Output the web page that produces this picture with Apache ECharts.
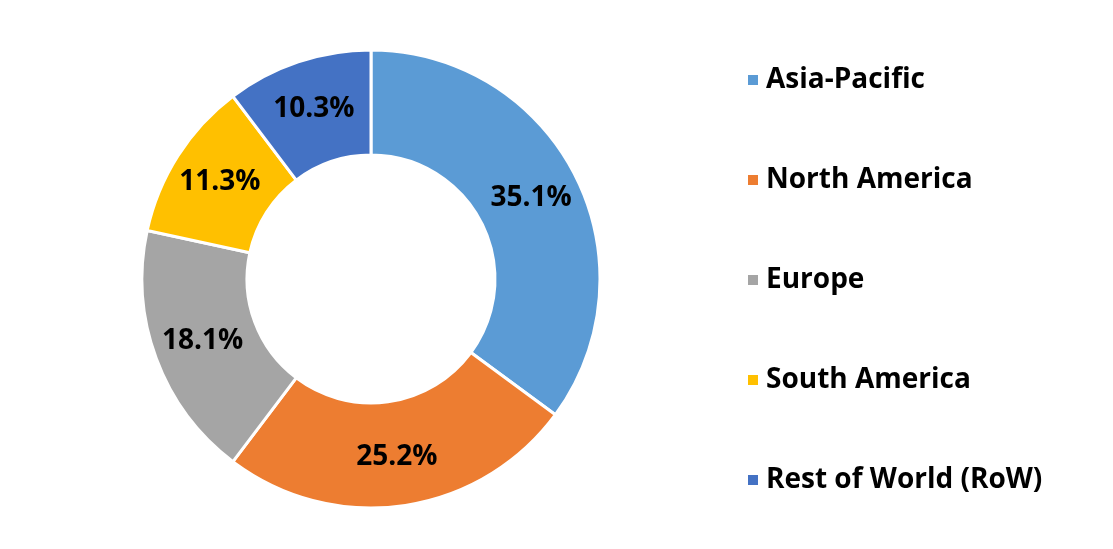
<!DOCTYPE html>
<html>
<head>
<meta charset="utf-8">
<script src="https://cdn.jsdelivr.net/npm/echarts@6/dist/echarts.min.js"></script>
<style>html,body{margin:0;padding:0;background:#fff}#c{width:1113px;height:549px}</style>
</head>
<body>
<div id="c"></div>
<script>
const categories = ["Asia-Pacific", "North America", "Europe", "South America", "Rest of World (RoW)"];
const values = [35.1, 25.2, 18.1, 11.3, 10.3];
const colors = ["#5B9BD5", "#ED7D31", "#A5A5A5", "#FFC000", "#4472C4"];

const chart = echarts.init(document.getElementById('c'));
chart.setOption({
  backgroundColor: '#fff',
  animation: false,
  color: colors,
  legend: {
    orient: 'vertical',
    left: 741,
    top: 58,
    itemWidth: 12,
    itemHeight: 12,
    itemGap: 66,
    icon: 'rect',
    data: categories,
    textStyle: { fontFamily: 'Open Sans', fontWeight: 'bold', fontSize: 28, color: '#000', lineHeight: 34, padding: [0, 0, 0, 2] }
  },
  series: [{
    type: 'pie',
    center: [371, 279],
    radius: [124, 229],
    startAngle: 90,
    clockwise: true,
    avoidLabelOverlap: false,
    itemStyle: { borderColor: '#fff', borderWidth: 3 },
    label: {
      show: true,
      position: 'inside',
      formatter: p => p.value.toFixed(1) + '%',
      fontFamily: 'Open Sans',
      fontWeight: 'bold',
      fontSize: 28,
      color: '#000'
    },
    labelLine: { show: false },
    data: categories.map((c, i) => ({ name: c, value: values[i] }))
  }]
});
</script>
</body>
</html>
